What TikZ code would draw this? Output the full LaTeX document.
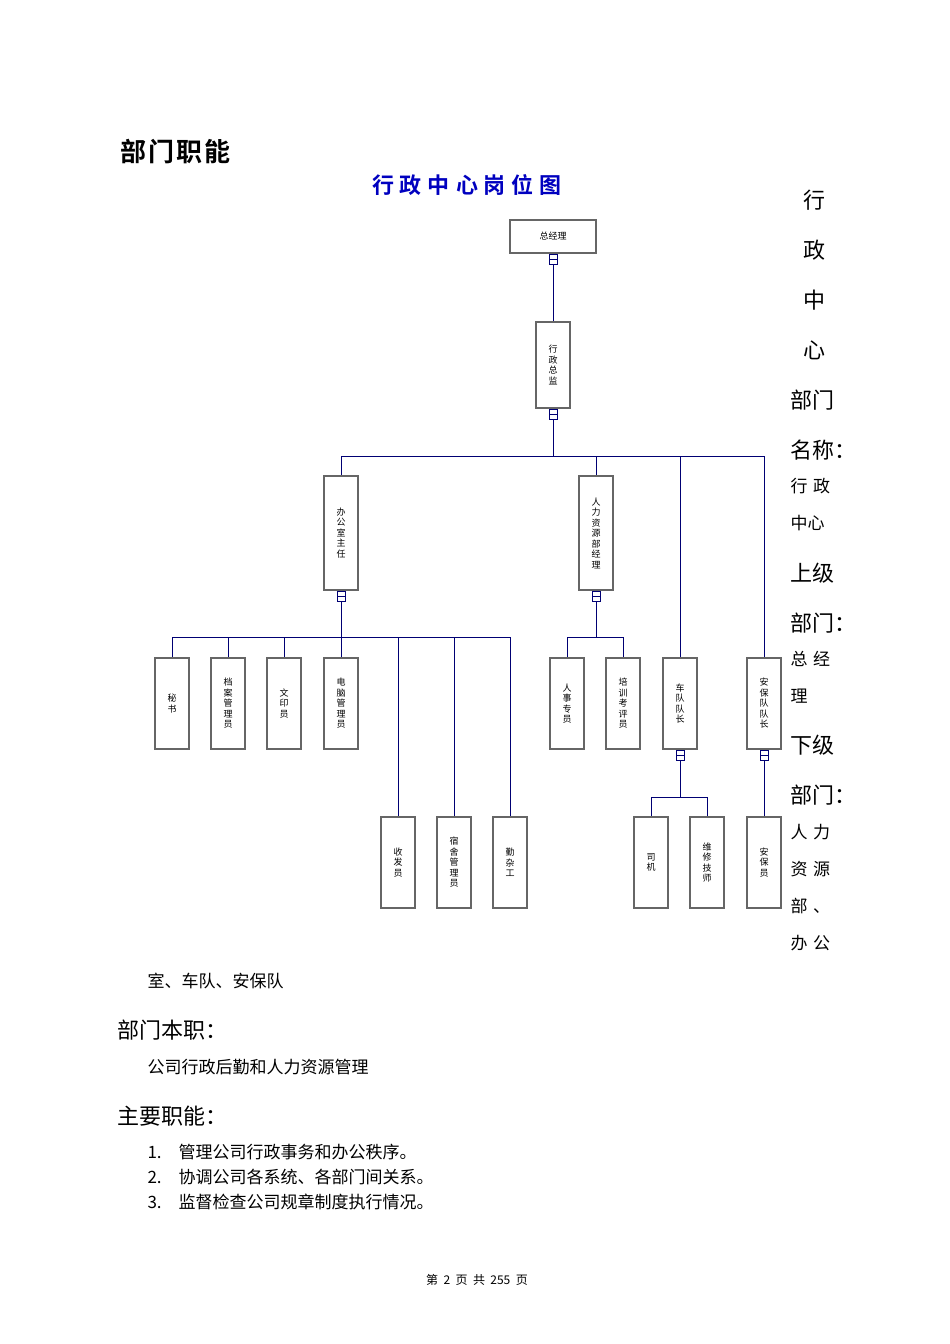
\documentclass[tikz,border=0pt]{standalone}
\usepackage{fontspec}
\setmainfont{Noto Sans CJK SC}
\newfontfamily\cjkb{Noto Sans CJK SC Bold}
\begin{document}
\begin{tikzpicture}[x=1pt,y=-1pt,
  box/.style={draw=gray!80!black,line width=1.1pt,fill=white,inner sep=0pt},
  ln/.style={draw=blue!45!black,line width=0.9pt},
  vtext/.style={align=center,font=\fontsize{9}{10.5}\selectfont},
  big/.style={anchor=west,font=\fontsize{22}{22}\selectfont},
  sm/.style={anchor=west,font=\fontsize{17}{17}\selectfont}]
\useasboundingbox (0,0) rectangle (950,1344);
\newcommand{\vb}[6]{\node[box,minimum width=#3-#2,minimum height=#5-#4,vtext] (#1) at ({(#2+#3)/2},{(#4+#5)/2}) {#6};}
\newcommand{\cn}[3]{\draw[ln,fill=white] (#1-4,#2) rectangle (#1+4,#2+10); \draw[ln] (#1-4,#2+5)--(#1+4,#2+5); \coordinate (#3) at (#1,#2+10);}
% top
\node[box,minimum width=86,minimum height=33,font=\fontsize{9}{9}\selectfont] (gm) at (553,236.5) {总经理};
\vb{xz}{536}{570}{322}{408}{行\\政\\总\\监}
\cn{553}{254}{c1}
\cn{553}{409}{c2}
\draw[ln] (c1)--(xz.north);
\coordinate (b1) at (553,456);
\draw[ln] (c2)--(b1);
\draw[ln] (341,456)--(764,456);
\vb{bg}{324}{358}{476}{590}{办\\公\\室\\主\\任}
\vb{hr}{579}{613}{476}{590}{人\\力\\资\\源\\部\\经\\理}
\vb{cd}{663}{697}{658}{749}{车\\队\\队\\长}
\vb{ab}{747}{781}{658}{749}{安\\保\\队\\队\\长}
\draw[ln] (341,456)--(bg.north);
\draw[ln] (596,456)--(hr.north);
\draw[ln] (680,456)--(cd.north);
\draw[ln] (764,456)--(ab.north);
% office
\cn{341}{591}{c3}
\draw[ln] (c3)--(341,637);
\draw[ln] (172,637)--(511,637);
\vb{ms}{155}{189}{658}{749}{秘\\书}
\vb{da}{211}{245}{658}{749}{档\\案\\管\\理\\员}
\vb{wy}{267}{301}{658}{749}{文\\印\\员}
\vb{dn}{324}{358}{658}{749}{电\\脑\\管\\理\\员}
\vb{sf}{381}{415}{817}{908}{收\\发\\员}
\vb{ss}{437}{471}{817}{908}{宿\\舍\\管\\理\\员}
\vb{qz}{493}{527}{817}{908}{勤\\杂\\工}
\foreach \n/\x in {ms/172,da/228,wy/284,dn/341,sf/398,ss/454,qz/510}{\draw[ln] (\x,637)--(\n.north);}
% hr
\cn{596}{591}{c4}
\draw[ln] (c4)--(596,637);
\draw[ln] (567,637)--(623,637);
\vb{rs}{550}{584}{658}{749}{人\\事\\专\\员}
\vb{px}{606}{640}{658}{749}{培\\训\\考\\评\\员}
\draw[ln] (567,637)--(rs.north);
\draw[ln] (623,637)--(px.north);
% fleet
\cn{680}{750}{c5}
\draw[ln] (c5)--(680,797);
\draw[ln] (651,797)--(707,797);
\vb{sj}{634}{668}{817}{908}{司\\机}
\vb{wx}{690}{724}{817}{908}{维\\修\\技\\师}
\draw[ln] (651,797)--(sj.north);
\draw[ln] (707,797)--(wx.north);
\cn{764}{750}{c6}
\vb{ay}{747}{781}{817}{908}{安\\保\\员}
\draw[ln] (c6)--(ay.north);
% texts
\node[anchor=west,inner sep=0pt,font=\cjkb\fontsize{26}{26}\selectfont] (h0) at (120,152) {部\kern2pt 门\kern2pt 职\kern2pt 能};
\node[font=\cjkb\fontsize{22}{22}\selectfont,text=blue!75!black] (tt) at (467,185) {行\kern6pt 政\kern6pt 中\kern6pt 心\kern6pt 岗\kern6pt 位\kern6pt 图};
\node[big] (r1) at (800,200) {行};
\node[big] (r2) at (800,250) {政};
\node[big] (r3) at (800,300) {中};
\node[big] (r4) at (800,350) {心};
\node[big] (r5) at (787,400) {部门};
\node[big] (r6) at (787,450) {名称：};
\node[sm] (r7) at (787,486) {行\,\,政};
\node[sm] (r8) at (787,523) {中心};
\node[big] (r9) at (787,573) {上级};
\node[big] (r10) at (787,623) {部门：};
\node[sm] (r11) at (787,659) {总\,\,经};
\node[sm] (r12) at (787,696) {理};
\node[big] (r13) at (787,745) {下级};
\node[big] (r14) at (787,795) {部门：};
\node[sm] (r15) at (787,832) {人\,\,力};
\node[sm] (r16) at (787,869) {资\,\,源};
\node[sm] (r17) at (787,906) {部\,\,、};
\node[sm] (r18) at (787,943) {办\,\,公};
\node[sm] (t1) at (144,981) {室、车队、安保队};
\node[big] (t2) at (114,1030) {部门本职：};
\node[sm] (t3) at (144,1067) {公司行政后勤和人力资源管理};
\node[big] (t4) at (114,1116) {主要职能：};
\node[sm] (t5) at (144,1152) {1.\quad 管理公司行政事务和办公秩序。};
\node[sm] (t6) at (144,1177) {2.\quad 协调公司各系统、各部门间关系。};
\node[sm] (t7) at (144,1202) {3.\quad 监督检查公司规章制度执行情况。};
\node[font=\fontsize{12}{12}\selectfont] (ft) at (477,1280) {第\ \ 2\ \ 页\ \ 共\ \ 255\ \ 页};
\end{tikzpicture}
\end{document}
